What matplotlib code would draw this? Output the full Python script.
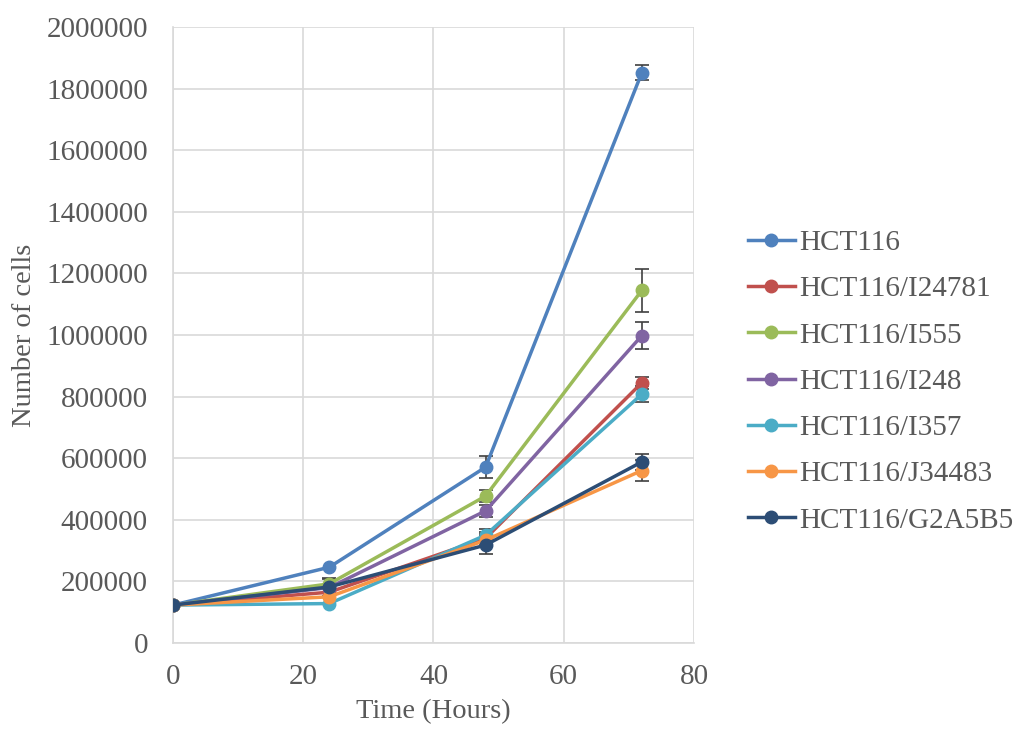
import matplotlib.pyplot as plt

# Data
hours = [0, 24, 48, 72]
series_names = ["HCT116", "HCT116/I24781", "HCT116/I555", "HCT116/I248",
                "HCT116/I357", "HCT116/J34483", "HCT116/G2A5B5"]
hct116 = [123000, 246000, 571000, 1852000]
i24781 = [123000, 165000, 340000, 845000]
i555 = [123000, 192000, 477000, 1145000]
i248 = [123000, 180000, 429000, 998000]
i357 = [123000, 128000, 350000, 808000]
j34483 = [123000, 150000, 334000, 560000]
g2a5b5 = [123000, 182000, 318000, 588000]
values = [hct116, i24781, i555, i248, i357, j34483, g2a5b5]

# error bars (0 = none drawn)
err_hct116 = [0, 0, 35000, 25000]
err_i24781 = [0, 0, 20000, 20000]
err_i555 = [0, 15000, 20000, 70000]
err_i248 = [0, 0, 20000, 44000]
err_i357 = [0, 0, 20000, 25000]
err_j34483 = [0, 0, 20000, 33000]
err_g2a5b5 = [0, 30000, 28000, 25000]
errors = [err_hct116, err_i24781, err_i555, err_i248, err_i357, err_j34483, err_g2a5b5]

colors = ["#4F81BD", "#C0504D", "#9BBB59", "#8064A2", "#4BACC6", "#F79646", "#2C4D75"]

plt.rcParams['font.family'] = ['Liberation Serif', 'DejaVu Serif']
text_color = "#595959"

fig = plt.figure(figsize=(10.14, 7.31), dpi=100)
ax = fig.add_axes([0.1706, 0.1204, 0.5138, 0.8427])

for name, vals, errs, c in zip(series_names, values, errors, colors):
    ax.plot(hours, vals, color=c, lw=2.5, marker='o', markersize=9, label=name, zorder=3)
    idx = [i for i, e in enumerate(errs) if e > 0]
    ax.errorbar([hours[i] for i in idx], [vals[i] for i in idx],
                yerr=[errs[i] for i in idx], fmt='none', ecolor="#404040",
                elinewidth=1.2, capsize=5, capthick=1.2, zorder=2)

ax.set_xlim(0, 80)
ax.set_ylim(0, 2000000)
ax.set_xticks(range(0, 81, 20))
ax.set_yticks(range(0, 2000001, 200000))
ax.set_yticklabels([str(v) for v in range(0, 2000001, 200000)])
ax.grid(True, color="#D9D9D9", lw=1.2)
ax.set_axisbelow(True)
for side in ['top', 'right']:
    ax.spines[side].set_visible(False)
for side in ['left', 'bottom']:
    ax.spines[side].set_color("#D9D9D9")
    ax.spines[side].set_linewidth(1.2)
ax.tick_params(length=0, labelsize=21, colors=text_color)
ax.tick_params(axis='y', pad=18)
ax.tick_params(axis='x', pad=15)

ax.set_xlabel("Time (Hours)", fontsize=20.5, color=text_color, labelpad=7)
ax.set_ylabel("Number of cells", fontsize=20.5, color=text_color, labelpad=7)

leg = ax.legend(loc='center left', bbox_to_anchor=(748 / 1014, 0.478),
                bbox_transform=fig.transFigure, frameon=False,
                fontsize=21, labelcolor=text_color, handlelength=1.6,
                handletextpad=0.17, labelspacing=0.68, borderpad=0, borderaxespad=0)

fig.savefig("out.png", dpi=100)
